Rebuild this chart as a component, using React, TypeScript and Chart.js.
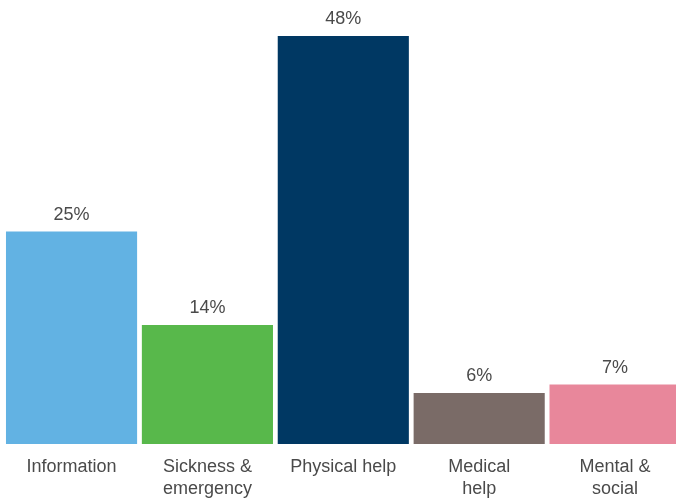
import React, { useEffect, useRef } from "react";
import { Chart, registerables } from "chart.js";

Chart.register(...registerables);

const categories: (string | string[])[] = [
  "Information",
  ["Sickness &", "emergency"],
  "Physical help",
  ["Medical", "help"],
  ["Mental &", "social"],
];
const values: number[] = [25, 14, 48, 6, 7];
const valueLabels: string[] = ["25%", "14%", "48%", "6%", "7%"];
const barColors: string[] = ["#62b2e3", "#58b84b", "#003863", "#7a6b67", "#e8879b"];

const FONT = "'Liberation Sans', Arial, Helvetica, sans-serif";
const TEXT_COLOR = "#4a4a4a";

const valueLabelPlugin = {
  id: "valueLabels",
  afterDatasetsDraw(chart: any) {
    const ctx = chart.ctx;
    const meta = chart.getDatasetMeta(0);
    ctx.save();
    ctx.font = `18px ${FONT}`;
    ctx.fillStyle = TEXT_COLOR;
    ctx.textAlign = "center";
    ctx.textBaseline = "alphabetic";
    meta.data.forEach((el: any, i: number) => {
      ctx.fillText(valueLabels[i], el.x, el.y - 12);
    });
    ctx.restore();
  },
};

export default function App() {
  const ref = useRef<HTMLCanvasElement>(null);
  useEffect(() => {
    document.body.style.margin = "0";
    document.body.style.overflow = "hidden";
    document.documentElement.style.overflow = "hidden";
    const chart = new Chart(ref.current!, {
      type: "bar",
      data: {
        labels: categories,
        datasets: [
          {
            data: values,
            backgroundColor: barColors,
            borderWidth: 0,
            categoryPercentage: 1,
            barPercentage: 0.965,
          },
        ],
      },
      options: {
        responsive: false,
        animation: false,
        layout: { padding: { top: 19, left: 3.6, right: 0, bottom: -14 } },
        plugins: {
          legend: { display: false },
          tooltip: { enabled: false },
        },
        scales: {
          x: {
            grid: { display: false, drawTicks: false },
            border: { display: false },
            ticks: {
              color: TEXT_COLOR,
              font: { family: FONT, size: 18, lineHeight: 1.222 },
              padding: 12,
              maxRotation: 0,
              autoSkip: false,
            },
          },
          y: {
            display: false,
            min: 0,
            max: 50,
          },
        },
      },
      plugins: [valueLabelPlugin],
    });
    return () => chart.destroy();
  }, []);
  return (
    <div style={{ position: "absolute", left: 0, top: 0, width: 683, height: 498, overflow: "hidden" }}>
      <canvas ref={ref} width={683} height={498} style={{ display: "block" }} />
    </div>
  );
}
